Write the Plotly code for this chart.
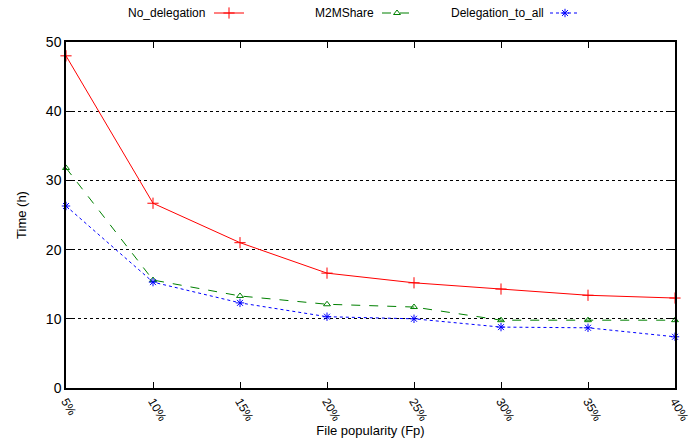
import plotly.graph_objects as go

popularity = [5, 10, 15, 20, 25, 30, 35, 40]
tick_labels = ["5%", "10%", "15%", "20%", "25%", "30%", "35%", "40%"]
no_delegation = [48.0, 26.7, 21.0, 16.6, 15.2, 14.3, 13.4, 13.0]
m2mshare = [31.8, 15.6, 13.3, 12.1, 11.7, 9.8, 9.8, 9.8]
delegation_to_all = [26.3, 15.3, 12.3, 10.3, 10.0, 8.8, 8.7, 7.4]

W, H = 691, 438
L, R, T, B = 66, 16, 42, 50
PW, PH = W - L - R, H - T - B

series = [
    ("No_delegation", no_delegation, "#ff0000", "solid", "cross-thin-open", 8, "legend"),
    ("M2MShare", m2mshare, "#008000", "dash", "triangle-up-open", 6, "legend2"),
    ("Delegation_to_all", delegation_to_all, "#0000ff", "dot", "asterisk-open", 7, "legend3"),
]

fig = go.Figure()
for name, vals, col, dash, sym, ms, lg in series:
    fig.add_trace(go.Scatter(
        x=popularity, y=vals, mode="lines+markers", name=" ",
        line=dict(color=col, width=1, dash=dash),
        marker=dict(symbol=sym, size=ms, color=col, line=dict(color=col, width=1)),
        legend=lg, cliponaxis=False, showlegend=True,
    ))

# legend sample positions (container pixels) and text labels
legend_specs = [("No_delegation", 209, 207), ("M2MShare", 377, 376), ("Delegation_to_all", 545, 546)]
legend_common = dict(orientation="h", xref="container", yref="container",
                     yanchor="middle", bgcolor="rgba(0,0,0,0)",
                     font=dict(family="Liberation Sans, Arial", size=12, color="#000"),
                     itemwidth=30, visible=True)
annotations = []
for (label, sample_x, text_right), lg in zip(legend_specs, ["legend", "legend2", "legend3"]):
    fig.update_layout({lg: dict(legend_common, x=sample_x / W, y=1 - 13 / H, xanchor="left")})
    annotations.append(dict(
        text=label, xref="paper", yref="paper",
        x=(text_right - L) / PW, y=1 + (T - 13) / PH,
        xanchor="right", yanchor="middle", showarrow=False,
        font=dict(family="Liberation Sans, Arial", size=12, color="#000"),
    ))

fig.update_layout(
    width=W, height=H,
    margin=dict(l=L, r=R, t=T, b=B, autoexpand=False),
    paper_bgcolor="white", plot_bgcolor="white",
    showlegend=True,
    font=dict(family="Liberation Sans, Arial", size=13, color="#000"),
    annotations=annotations,
    xaxis=dict(
        range=[5, 40], tickvals=popularity, ticktext=tick_labels, tickangle=60,
        ticklabeloverflow="allow", automargin=False,
        showline=True, linecolor="black", linewidth=1.5, mirror="ticks",
        ticks="inside", ticklen=6, tickcolor="black", showgrid=False, zeroline=False,
        title=dict(text="File popularity (Fp)", font=dict(size=13), standoff=0),
        tickfont=dict(size=12),
    ),
    yaxis=dict(
        range=[0, 50], tickvals=[0, 10, 20, 30, 40, 50], automargin=False,
        showline=True, linecolor="black", linewidth=1.5, mirror="ticks",
        ticks="inside", ticklen=6, tickcolor="black",
        showgrid=True, gridcolor="black", griddash="dot", gridwidth=1, zeroline=False,
        title=dict(text="Time (h)", font=dict(size=13), standoff=16),
        tickfont=dict(size=14),
    ),
)

fig.write_html("out.html")
